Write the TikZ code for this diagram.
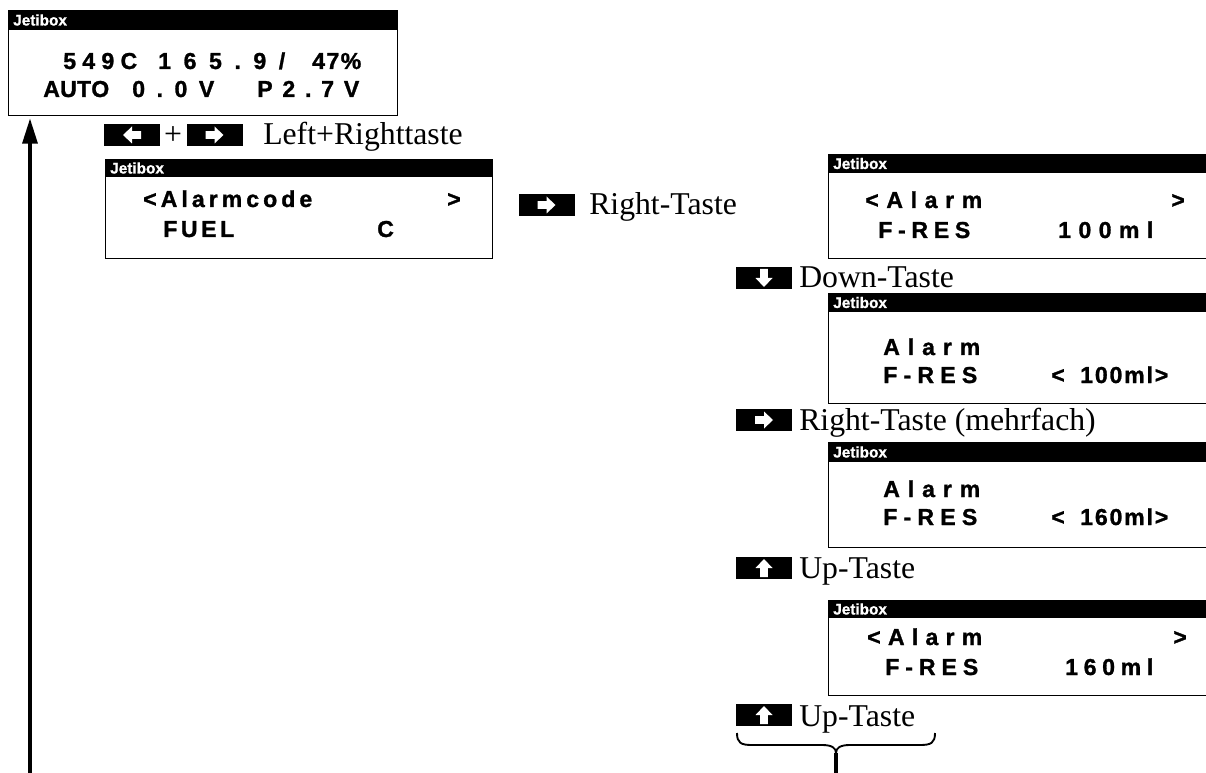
\documentclass[tikz,border=0pt]{standalone}
\usepackage{fontspec}
\setmainfont{Liberation Serif}
\newfontfamily\lcdfont{Liberation Sans}[BoldFeatures={FakeBold=1.2}]
\usetikzlibrary{arrows.meta,calc}
\newdimen\pxu \pxu=0.75pt
\def\sprloop#1{\ifx#1\relax\else\hfil#1\expandafter\sprloop\fi}
\def\sprfirst#1{#1\sprloop}
\newcommand\spread[2]{\makebox[#1\pxu][s]{\sprfirst#2\relax}}
\newcount\tcnt
\tikzset{
 jb/.style={draw, line width=0.9pt, anchor=north west, inner sep=0, fill=white},
 jbt/.style={anchor=west, inner sep=0, text=white, font=\lcdfont\bfseries\fontsize{11.5}{13}\selectfont},
 lcd/.style={anchor=base west, inner sep=0, font=\lcdfont\bfseries\fontsize{17.3}{19}\selectfont},
 lbl/.style={anchor=base west, inner sep=0, font=\fontsize{23.8}{28}\selectfont},
 keybox/.style={fill=black, minimum width=42pt, minimum height=16.5pt, inner sep=0},
 karr/.pic={\fill[white] (-9,-3.8) -- (0,-3.8) -- (0,-8.5) -- (9,0) -- (0,8.5) -- (0,3.8) -- (-9,3.8) -- cycle;},
}
\newcommand\jbox[6]{%
 \node[jb, minimum width=#4*0.75pt, minimum height=#5*0.75pt] (#1) at (#2,#3) {};
 \fill (#1.north west) rectangle ($(#1.north east)+(0,#6)$);
 \node[jbt] (#1j) at ($(#1.north west)+(5,#6/2)$) {Jetibox};}
\newcommand\lw[4]{\global\advance\tcnt by 1
 \node[lcd] (w\the\tcnt) at (#1,#2) {\spread{\numexpr#3-#1\relax}{#4}};}
\newcommand\lc[3]{\global\advance\tcnt by 1
 \node[lcd] (w\the\tcnt) at (#1,#2) {#3};}
\begin{document}
\begin{tikzpicture}[x=0.75pt,y=-0.75pt]
\useasboundingbox (0,0) rectangle (1206,773);
\clip (0,0) rectangle (1206,773);
% boxes
\jbox{b1}{8}{10}{389}{105}{20}
\jbox{b2}{105}{159}{387}{99}{18}
\jbox{b3}{828}{154}{388}{104}{19}
\jbox{b4}{828}{293}{388}{110}{19}
\jbox{b5}{828}{442}{388}{105}{20}
\jbox{b6}{828}{600}{388}{95}{18}
% box 1
\lw{63}{69}{137}{549C}
\lw{158}{69}{285}{165.9/}
\lw{312}{69}{361}{47\%}
\lw{43}{97}{109}{AUTO}
\lw{132}{97}{214}{0.0V}
\lw{257}{97}{359}{P2.7V}
% box 2
\lw{143}{207}{312}{<Alarmcode}
\lc{447}{207}{>}
\lw{163}{237}{234}{FUEL}
\lc{377}{237}{C}
% box 3
\lw{865}{208}{982}{<Alarm}
\lc{1171}{208}{>}
\lw{878}{238}{970}{F-RES}
\lw{1058}{238}{1153}{100ml}
% box 4
\lw{883}{355}{980}{Alarm}
\lw{883}{383}{977}{F-RES}
\lc{1051}{383}{<}
\lw{1080}{383}{1168}{100ml>}
% box 5
\lw{883}{497}{980}{Alarm}
\lw{883}{525}{977}{F-RES}
\lc{1051}{525}{<}
\lw{1080}{525}{1168}{160ml>}
% box 6
\lw{867}{645}{982}{<Alarm}
\lc{1173}{645}{>}
\lw{885}{675}{978}{F-RES}
\lw{1065}{675}{1153}{160ml}
% keys and labels
\node[keybox] (k1) at (132,135) {};
\pic[rotate=180] at (k1) {karr};
\node[lbl, anchor=base] (plus) at (173,145) {+};
\node[keybox] (k2) at (214.5,135) {};
\pic at (k2) {karr};
\node[lbl] (t1) at (263,145) {Left+Righttaste};
\node[keybox] (k3) at (546.5,205) {};
\pic at (k3) {karr};
\node[lbl] (t2) at (589,215) {Right-Taste};
\node[keybox] (k4) at (764,278) {};
\pic[rotate=-90] at (k4) {karr};
\node[lbl] (t3) at (799,288) {Down-Taste};
\node[keybox] (k5) at (764,420) {};
\pic at (k5) {karr};
\node[lbl] (t4) at (799,430) {Right-Taste (mehrfach)};
\node[keybox] (k6) at (764,568) {};
\pic[rotate=90] at (k6) {karr};
\node[lbl] (t5) at (799,578) {Up-Taste};
\node[keybox] (k7) at (764,715) {};
\pic[rotate=90] at (k7) {karr};
\node[lbl] (t6) at (799,726) {Up-Taste};
% return arrow
\coordinate (retbot) at (30,785);
\coordinate (rettop) at ($(b1.south west)+(22,2)$);
\draw[line width=3pt, -{Triangle[width=11pt,length=19pt]}] (retbot) -- (rettop);
% brace
\coordinate (brL) at (737,733);
\coordinate (brR) at (935,733);
\coordinate (brM) at (836,753);
\coordinate (brB) at (836,785);
\draw[line width=1.4pt] (brL) .. controls (737,743) and (741,745) .. (752,745) -- (822,745) .. controls (832,745) and (836,748) .. (brM) .. controls (836,748) and (840,745) .. (850,745) -- (920,745) .. controls (931,745) and (935,743) .. (brR);
\draw[line width=2.4pt] (brM) -- (brB);
\end{tikzpicture}
\end{document}
